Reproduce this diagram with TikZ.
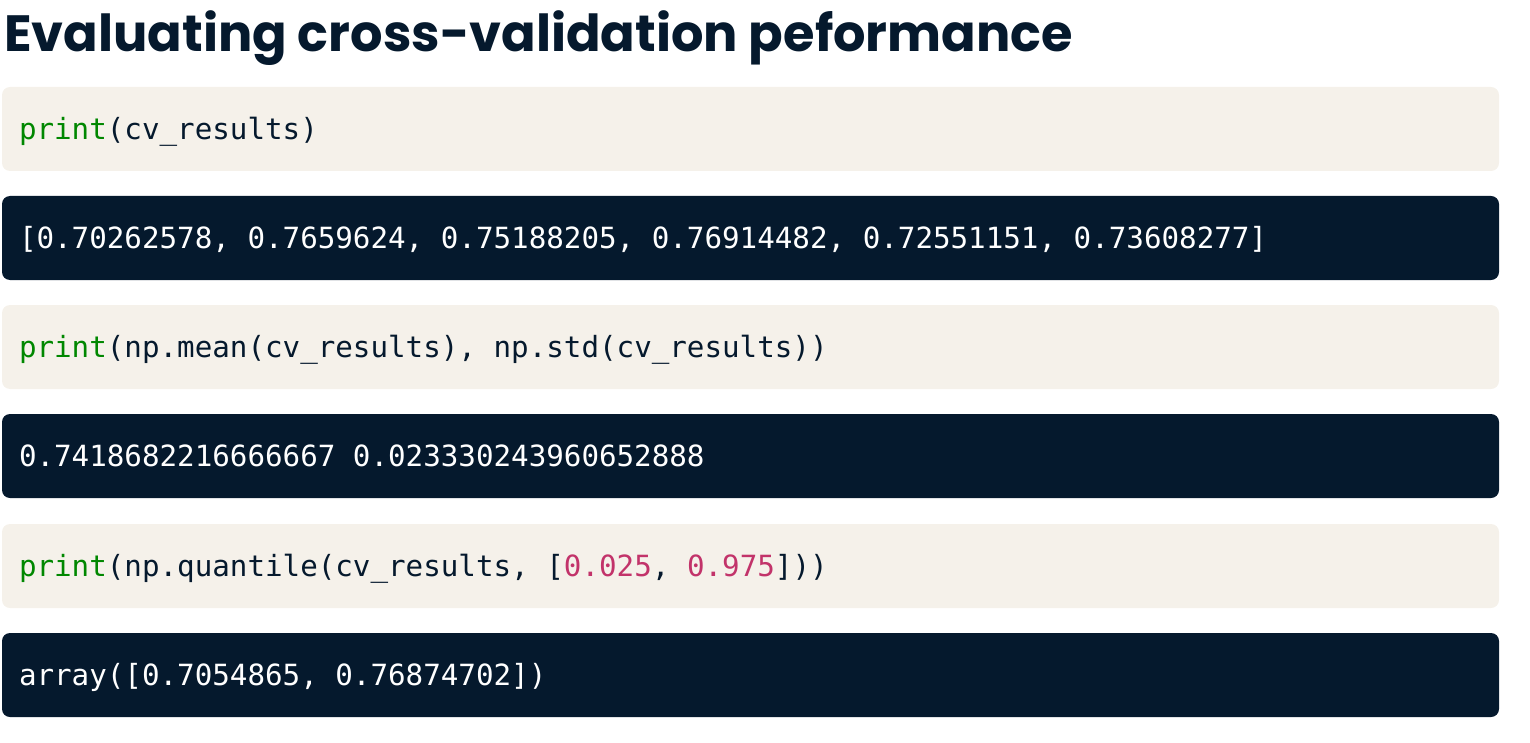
\documentclass[tikz,border=0pt]{standalone}
\usepackage{fontspec}
\setmonofont{DejaVu Sans Mono}
\newfontfamily\titlefont{Poppins}
\usepackage{xcolor}
\definecolor{navy}{HTML}{05192D}
\definecolor{sand}{HTML}{F5F1EA}
\definecolor{kwgreen}{HTML}{008700}
\definecolor{numpink}{HTML}{C2336A}
\tikzset{Code/.style={rectangle,rounded corners=8pt,anchor=north west,minimum height=84pt,text width=1463pt,inner xsep=17pt,inner ysep=0pt,outer sep=0pt,align=left,text height=21pt,text depth=0pt,font=\ttfamily\fontsize{29.2}{34}\selectfont,execute at begin node={\spaceskip=0.602em\relax}}}
\tikzset{In/.style={Code,fill=sand,text=navy},Out/.style={Code,fill=navy,text=white}}
\newcommand{\kwd}[1]{\textcolor{kwgreen}{#1}}
\newcommand{\nmb}[1]{\textcolor{numpink}{#1}}

\begin{document}
\begin{tikzpicture}[x=1pt,y=-1pt]
    \useasboundingbox (0,0) rectangle (1530,743);
    \node[anchor=base west,text=navy,inner sep=0pt,font=\titlefont\bfseries\fontsize{51}{60}\selectfont] (T) at (4,52) {Evaluating cross-validation peformance};
    \node[In] (I1) at (2,87) {\kwd{print}(cv\_results)};
    \node[Out] (O1) at (2,196) {[0.70262578, 0.7659624, 0.75188205, 0.76914482, 0.72551151, 0.73608277]};
    \node[In] (I2) at (2,305) {\kwd{print}(np.mean(cv\_results), np.std(cv\_results))};
    \node[Out] (O2) at (2,414) {0.7418682216666667 0.023330243960652888};
    \node[In] (I3) at (2,524) {\kwd{print}(np.quantile(cv\_results, [\nmb{0.025}, \nmb{0.975}]))};
    \node[Out] (O3) at (2,633) {array([0.7054865, 0.76874702])};
  \end{tikzpicture}
\end{document}
